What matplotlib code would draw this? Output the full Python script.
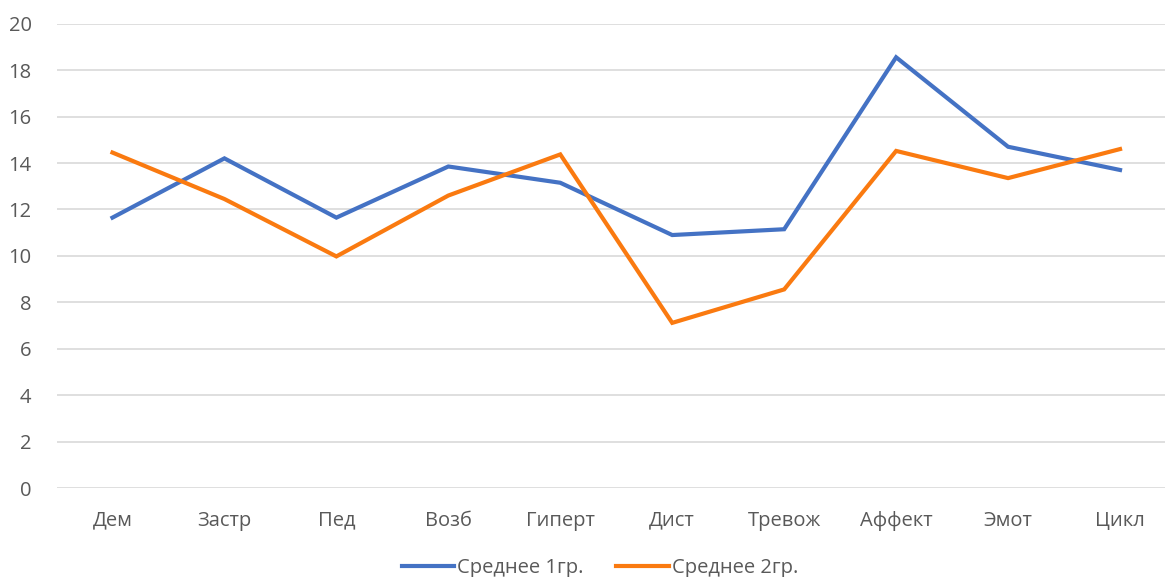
import matplotlib
matplotlib.use("Agg")
import matplotlib.pyplot as plt

categories = ["Дем", "Застр", "Пед", "Возб", "Гиперт", "Дист", "Тревож", "Аффект", "Эмот", "Цикл"]
series1 = [11.65, 14.2, 11.65, 13.85, 13.15, 10.9, 11.15, 18.55, 14.7, 13.7]
series2 = [14.45, 12.45, 9.98, 12.6, 14.37, 7.12, 8.56, 14.52, 13.35, 14.6]
labels = ["Среднее 1гр.", "Среднее 2гр."]
yticks = [0, 2, 4, 6, 8, 10, 12, 14, 16, 18, 20]

plt.rcParams['font.family'] = ['Open Sans', 'DejaVu Sans']

W, H = 1165, 577
fig = plt.figure(figsize=(W/100, H/100), dpi=100)
left, right = 56.5, 1176.0
bottom, top = 488.3, 23.6
ax = fig.add_axes([left/W, (H-bottom)/H, (right-left)/W, (bottom-top)/H])

x = list(range(len(categories)))
l1, = ax.plot(x, series1, color="#4472C4", lw=3.0, solid_joinstyle='miter', label=labels[0])
l2, = ax.plot(x, series2, color="#FA7A10", lw=3.0, solid_joinstyle='miter', label=labels[1])

fs = 14.5
ax.set_xlim(-0.5, len(categories)-0.5)
ax.set_ylim(0, 20)
ax.set_yticks(yticks)
ax.set_xticks(x)
ax.set_xticklabels(categories)
ax.grid(axis='y', color='#D9D9D9', lw=1.2)
ax.set_axisbelow(True)
for s in ax.spines.values():
    s.set_visible(False)
ax.tick_params(axis='both', length=0, labelsize=fs, labelcolor='#595959')
ax.tick_params(axis='x', pad=16)
ax.tick_params(axis='y', pad=18)

fig.legend(handles=[l1, l2], labels=labels, loc='center', bbox_to_anchor=(600/W, (H-568)/H),
           ncol=2, frameon=False, fontsize=fs, handlelength=2.6, handletextpad=0.15,
           columnspacing=1.6, labelcolor='#595959')

fig.savefig("out.png", dpi=100)
